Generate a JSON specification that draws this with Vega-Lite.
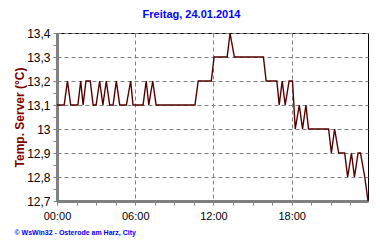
{
  "$schema": "https://vega.github.io/schema/vega-lite/v6.json",
  "width": 311,
  "height": 168,
  "autosize": {"type": "none"},
  "padding": {"left": 57, "top": 33, "right": 12, "bottom": 44},
  "background": "white",
  "config": {
    "font": "Liberation Sans",
    "view": {"stroke": "black", "strokeWidth": 1}
  },
  "title": {
    "text": "Freitag, 24.01.2014",
    "color": "#0000ff",
    "fontSize": 11,
    "fontWeight": "bold",
    "font": "Liberation Sans",
    "anchor": "middle",
    "dx": -21,
    "offset": 7
  },
  "data": {
    "values": [
      {"h": 0, "t": 13.1}, {"h": 0.55, "t": 13.1}, {"h": 0.8, "t": 13.2}, {"h": 1.05, "t": 13.1},
      {"h": 1.6, "t": 13.1}, {"h": 1.82, "t": 13.2}, {"h": 2.0, "t": 13.1}, {"h": 2.22, "t": 13.2},
      {"h": 2.55, "t": 13.2}, {"h": 2.77, "t": 13.1}, {"h": 3.0, "t": 13.1}, {"h": 3.27, "t": 13.2},
      {"h": 3.52, "t": 13.1}, {"h": 3.78, "t": 13.2}, {"h": 4.04, "t": 13.1}, {"h": 4.3, "t": 13.1},
      {"h": 4.55, "t": 13.2}, {"h": 4.81, "t": 13.1}, {"h": 5.32, "t": 13.1}, {"h": 5.65, "t": 13.2},
      {"h": 5.83, "t": 13.1}, {"h": 6.6, "t": 13.1}, {"h": 6.84, "t": 13.2}, {"h": 7.04, "t": 13.1},
      {"h": 7.34, "t": 13.2}, {"h": 7.6, "t": 13.1}, {"h": 10.58, "t": 13.1}, {"h": 10.83, "t": 13.2},
      {"h": 11.83, "t": 13.2}, {"h": 12.05, "t": 13.3}, {"h": 13.05, "t": 13.3}, {"h": 13.27, "t": 13.4},
      {"h": 13.6, "t": 13.3}, {"h": 15.83, "t": 13.3}, {"h": 16.04, "t": 13.2}, {"h": 16.86, "t": 13.2},
      {"h": 17.04, "t": 13.1}, {"h": 17.27, "t": 13.2}, {"h": 17.5, "t": 13.1}, {"h": 17.8, "t": 13.2},
      {"h": 18.06, "t": 13.2}, {"h": 18.27, "t": 13.0}, {"h": 18.58, "t": 13.1}, {"h": 18.83, "t": 13.0},
      {"h": 19.09, "t": 13.1}, {"h": 19.29, "t": 13.0}, {"h": 20.83, "t": 13.0}, {"h": 21.04, "t": 12.9},
      {"h": 21.29, "t": 13.0}, {"h": 21.6, "t": 12.9}, {"h": 22.06, "t": 12.9}, {"h": 22.29, "t": 12.8},
      {"h": 22.58, "t": 12.9}, {"h": 22.81, "t": 12.8}, {"h": 23.09, "t": 12.9}, {"h": 23.27, "t": 12.9},
      {"h": 23.6, "t": 12.8}, {"h": 23.85, "t": 12.7}
    ]
  },
  "mark": {"type": "line", "color": "#550000", "strokeWidth": 1.4},
  "encoding": {
    "x": {
      "field": "h",
      "type": "quantitative",
      "scale": {"domain": [0, 23.85], "nice": false, "zero": false},
      "axis": {
        "values": [0, 1.5, 3, 4.5, 6, 7.5, 9, 10.5, 12, 13.5, 15, 16.5, 18, 19.5, 21, 22.5],
        "labelExpr": "datum.value % 6 === 0 ? ((datum.value < 10 ? '0' : '') + datum.value + ':00') : ''",
        "labelOverlap": false,
        "labelFlush": false,
        "labelFont": "Liberation Sans",
        "labelFontSize": 11,
        "labelColor": "black",
        "labelPadding": 5,
        "domainColor": "#808080",
        "domainWidth": 3,
        "tickColor": "#808080",
        "tickSize": 4,
        "tickWidth": 1,
        "grid": true,
        "gridColor": "#808080",
        "gridDash": [4, 3],
        "gridWidth": 1,
        "gridOpacity": {"condition": {"test": "datum.value % 6 !== 0 || datum.value === 0", "value": 0}, "value": 1},
        "title": "© WsWin32 - Osterode am Harz, City",
        "titleAnchor": "start",
        "titleAlign": "left",
        "titleX": -43,
        "titleY": 27.5,
        "titleBaseline": "top",
        "titleFontSize": 7,
        "titleFontWeight": "bold",
        "titleColor": "#0000ff",
        "titleFont": "Liberation Sans"
      }
    },
    "y": {
      "field": "t",
      "type": "quantitative",
      "scale": {"domain": [12.7, 13.4], "nice": false, "zero": false},
      "axis": {
        "values": [12.7, 12.75, 12.8, 12.85, 12.9, 12.95, 13.0, 13.05, 13.1, 13.15, 13.2, 13.25, 13.3, 13.35, 13.4],
        "labelExpr": "abs(datum.value * 10 - round(datum.value * 10)) < 0.01 ? replace(format(datum.value, '.1~f'), '.', ',') : ''",
        "labelOverlap": false,
        "labelFlush": false,
        "labelFont": "Liberation Sans",
        "labelFontSize": 12,
        "labelColor": "black",
        "labelPadding": 3,
        "domainColor": "#808080",
        "domainWidth": 3,
        "tickColor": "#808080",
        "tickSize": 4,
        "tickWidth": 1,
        "grid": true,
        "gridColor": "#808080",
        "gridDash": [4, 3],
        "gridWidth": 1,
        "gridOpacity": {"condition": {"test": "abs(datum.value * 10 - round(datum.value * 10)) > 0.01", "value": 0}, "value": 1},
        "title": "Temp. Server  (°C)",
        "titleColor": "#800000",
        "titleFontSize": 12,
        "titleFontWeight": "bold",
        "titleFont": "Liberation Sans",
        "titlePadding": 0
      }
    }
  }
}
